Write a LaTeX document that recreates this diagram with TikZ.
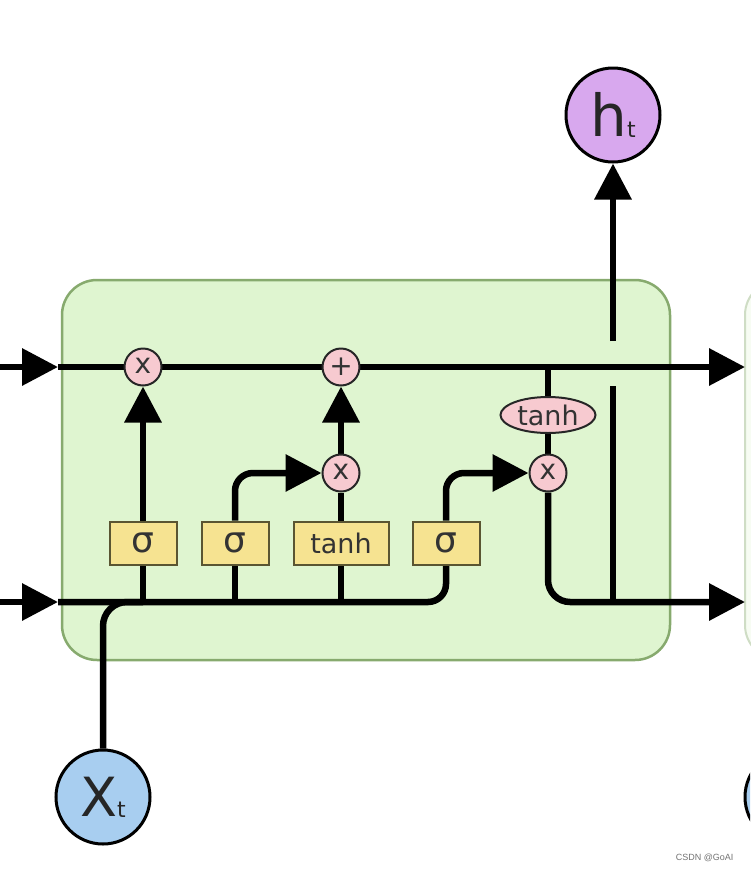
\documentclass[tikz,border=0pt]{standalone}
\usepackage{fontspec}
\setmainfont{DejaVu Sans}
\newfontfamily\wmfont{Liberation Sans}
\usetikzlibrary{arrows.meta,shapes.geometric}
\pgfdeclarelayer{back}
\pgfdeclarelayer{lines}
\pgfsetlayers{back,lines,main}
\definecolor{cellgreen}{RGB}{223,245,208}
\definecolor{cellborder}{RGB}{135,170,110}
\definecolor{gateyellow}{RGB}{246,227,145}
\definecolor{gateborder}{RGB}{90,85,50}
\definecolor{pwpink}{RGB}{247,202,208}
\definecolor{xblue}{RGB}{168,206,240}
\definecolor{hviolet}{RGB}{216,168,238}
\tikzset{
  wire/.style={line width=6.5pt, black},
  arr/.style={wire, -{Triangle[length=36pt,width=36pt]}},
  gatebox/.style={draw=gateborder, line width=2pt, fill=gateyellow, minimum height=43pt, inner sep=0pt, text=black!80, font=\fontsize{36}{36}\selectfont},
  sigbox/.style={gatebox, minimum width=67pt},
  tanhbox/.style={gatebox, minimum width=95pt, font=\fontsize{27}{27}\selectfont},
  pw/.style={circle, draw=black!85, line width=2pt, fill=pwpink, minimum size=37pt, inner sep=0pt, text=black!80, font=\fontsize{28}{28}\selectfont},
  pwell/.style={ellipse, draw=black!85, line width=2pt, fill=pwpink, minimum width=95pt, minimum height=36pt, inner sep=0pt, text=black!80, font=\fontsize{27}{27}\selectfont},
  io/.style={circle, draw=black, line width=3pt, minimum size=94pt, inner sep=0pt, text=black!85},
}
\begin{document}
\begin{tikzpicture}[x=1pt,y=-1pt]
\useasboundingbox (0,0) rectangle (750,873);
\begin{scope}
\clip (0,0) rectangle (750,873);
\begin{pgfonlayer}{back}
\fill[white] (0,0) rectangle (750,873);
\draw[draw=cellborder, line width=2.5pt, fill=cellgreen, rounded corners=35pt] (62,280) rectangle (670,660);
\draw[draw=cellborder!40, line width=2pt, fill=cellgreen!25, rounded corners=35pt] (745,280) rectangle (1000,660);
\end{pgfonlayer}

% nodes
\node[pw] (f) at (143,367) {\raisebox{2pt}{x}};
\node[pw] (plus) at (341,367) {+};
\node[pw] (m1) at (341,473) {\raisebox{2pt}{x}};
\node[pw] (m2) at (548,473) {\raisebox{2pt}{x}};
\node[pwell] (th) at (548,415) {tanh};
\node[sigbox] (g1) at (143,543) {σ};
\node[sigbox] (g2) at (235,543) {σ};
\node[tanhbox] (g3) at (341,543) {tanh};
\node[sigbox] (g4) at (446,543) {σ};
\node[io, fill=xblue] (x) at (103,797) {\fontsize{54}{54}\selectfont X\raisebox{-1pt}{\fontsize{22}{22}\selectfont t}};
\node[io, fill=hviolet] (h) at (613,115) {\fontsize{58}{58}\selectfont h\raisebox{-1pt}{\fontsize{22}{22}\selectfont t}};
\node[io, fill=xblue] (xn) at (792,797) {};

% coordinates
\coordinate (cin) at (0,367);
\coordinate (cintip) at (58,367);
\coordinate (cout) at (745,367);
\coordinate (hin) at (0,602);
\coordinate (hintip) at (58,602);
\coordinate (hout) at (745,602);
\coordinate (tj) at (548,367);
\coordinate (hj) at (613,602);
\coordinate (hlow) at (613,386);
\coordinate (hhigh) at (613,341);

\begin{pgfonlayer}{lines}
\draw[arr] (cin) -- (cintip);
\draw[arr] (cintip) -- (cout);
\draw[arr] (hin) -- (hintip);
\draw[wire, rounded corners=18pt] (hintip) -| (g4.south);
\draw[wire, rounded corners=24pt] (x.north) |- (g1.south |- hintip);
\draw[wire] (g1.south) -- (g1.south |- hintip);
\draw[wire] (g2.south) -- (g2.south |- hintip);
\draw[wire] (g3.south) -- (g3.south |- hintip);
\draw[arr] (g1.north) -- (f);
\draw[arr, rounded corners=18pt] (g2.north) |- (m1);
\draw[wire] (g3.north) -- (m1);
\draw[arr] (m1) -- (plus);
\draw[arr, rounded corners=18pt] (g4.north) |- (m2);
\draw[wire] (tj) -- (th);
\draw[wire] (th) -- (m2);
\draw[arr, rounded corners=22pt] (m2) |- (hout);
\draw[wire] (hj) -- (hlow);
\draw[arr] (hhigh) -- (h);
\end{pgfonlayer}
\end{scope}
\node[font=\wmfont\fontsize{9}{9}\selectfont, text=black!55, anchor=east] (wm) at (737,858) {CSDN @GoAI};
\end{tikzpicture}
\end{document}
